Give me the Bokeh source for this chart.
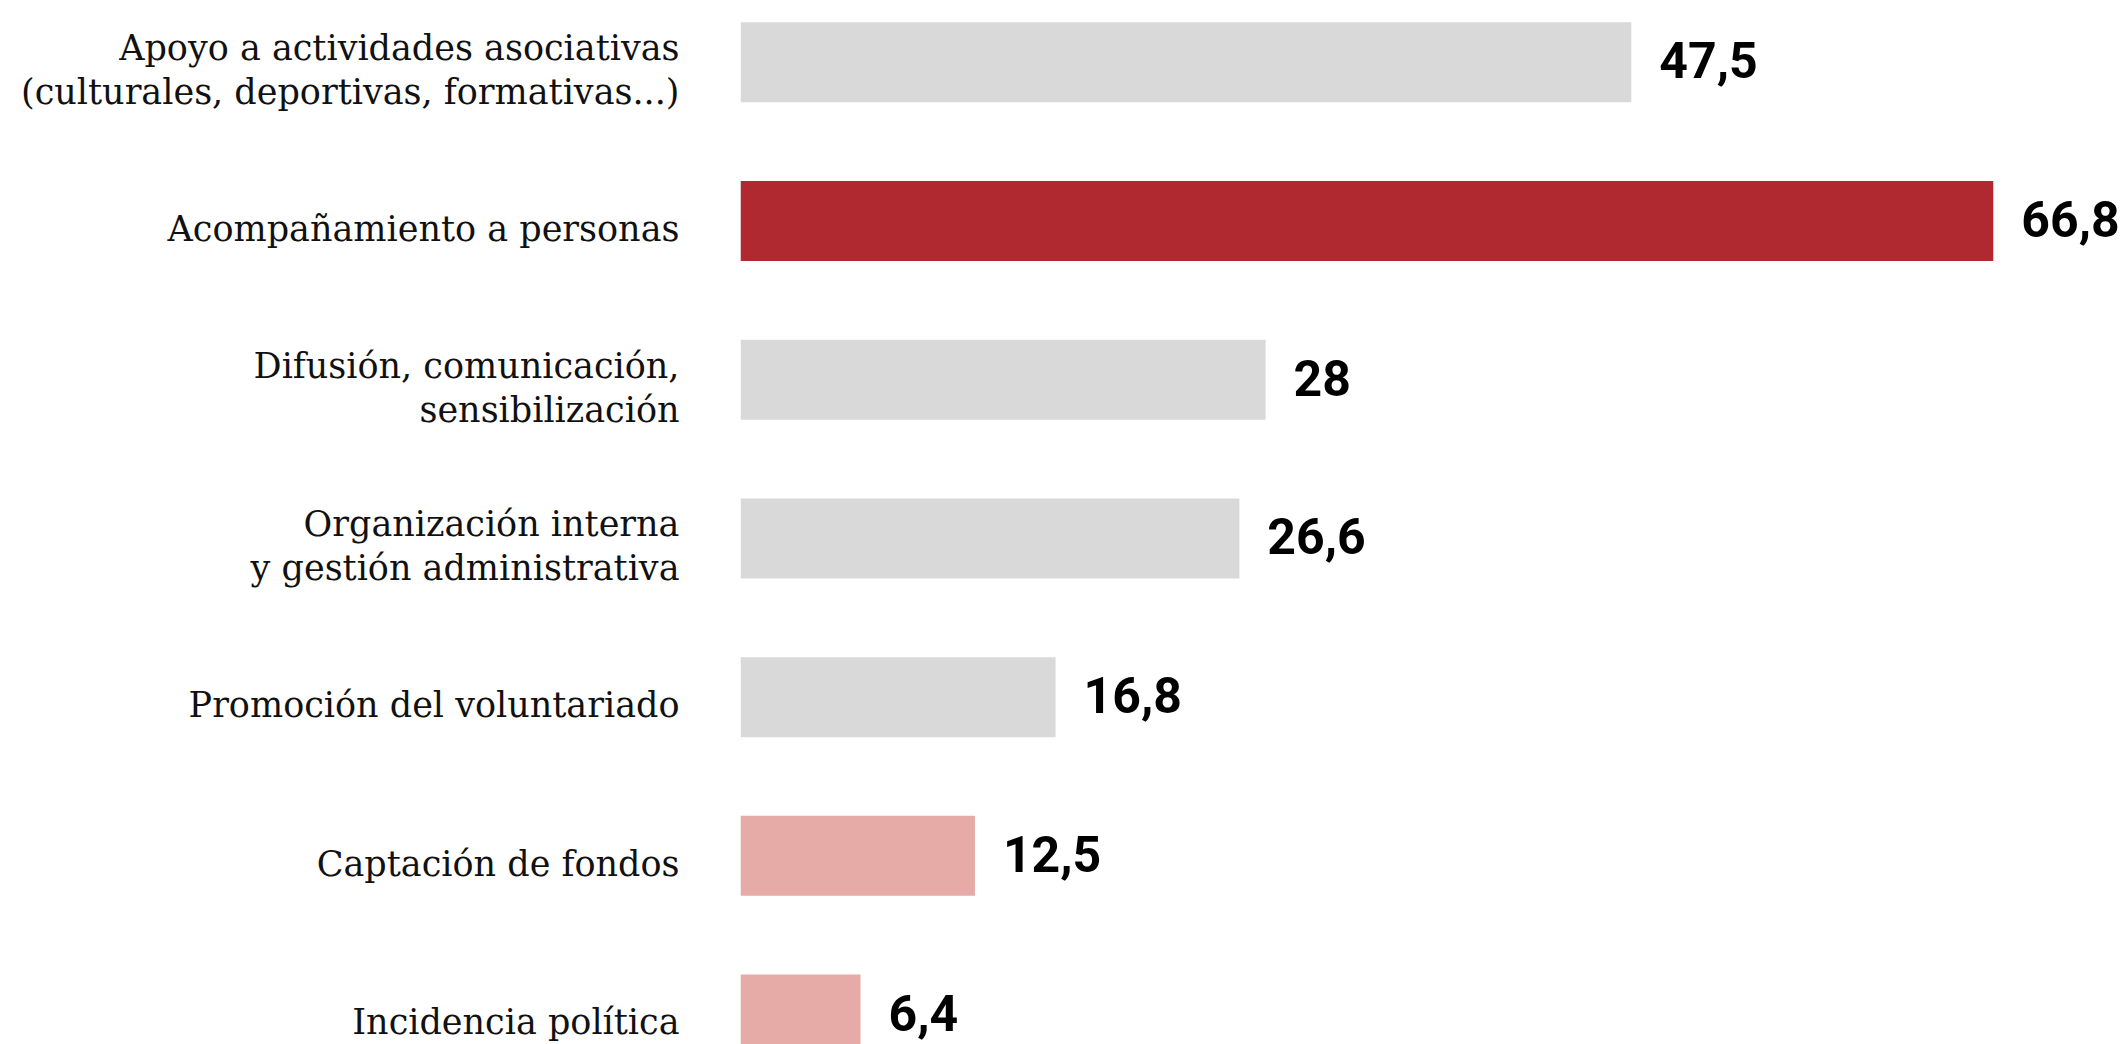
from bokeh.plotting import figure
from bokeh.models import ColumnDataSource, Range1d, FixedTicker
from bokeh.core.properties import value
from bokeh.embed import file_html
from bokeh.resources import INLINE

# ---- data ----
categories = [
    "Apoyo a actividades asociativas\n(culturales, deportivas, formativas...)",
    "Acompañamiento a personas",
    "Difusión, comunicación,\nsensibilización",
    "Organización interna\ny gestión administrativa",
    "Promoción del voluntariado",
    "Captación de fondos",
    "Incidencia política",
]
values = [47.5, 66.8, 28, 26.6, 16.8, 12.5, 6.4]

# ---- styles ----
GRAY = "#D9D9D9"
RED = "#B02830"
PINK = "#E6ABA7"
bar_colors = [GRAY, RED, GRAY, GRAY, GRAY, PINK, PINK]
LABEL_SHIFT = 0.05  # category labels sit slightly below bar centres


def fmt(v):
    s = ("%g" % v)
    return s.replace(".", ",")


positions = list(range(len(categories)))
src = ColumnDataSource(dict(
    y=positions,
    v=values,
    color=bar_colors,
    label=[fmt(v) for v in values],
))

W, H = 2122, 1044
p = figure(
    width=W, height=H,
    output_backend="svg", toolbar_location=None,
    x_range=Range1d(0, 73.69),
    y_range=Range1d(6.1887, -0.3897),
    min_border_left=740, min_border_right=0,
    min_border_top=0, min_border_bottom=0,
    background_fill_color="white", border_fill_color="white",
)
p.outline_line_color = None
p.xgrid.visible = False
p.ygrid.visible = False
p.xaxis.visible = False

p.hbar(y="y", right="v", left=0, height=0.504, color="color",
       line_color=None, source=src)

p.text(x="v", y="y", text="label", source=src,
       x_offset=28, y_offset=-2, text_align="left", text_baseline="middle",
       text_font=value("Roboto"), text_font_style="bold",
       text_font_size="50px", text_color="#000000")

tick_pos = [i + LABEL_SHIFT for i in positions]
ya = p.yaxis[0]
ya.ticker = FixedTicker(ticks=tick_pos)
ya.major_label_overrides = {t: c for t, c in zip(tick_pos, categories)}
ya.axis_line_color = None
ya.major_tick_line_color = None
ya.minor_tick_line_color = None
ya.major_label_standoff = 55
ya.major_label_text_font = "DejaVu Serif"
ya.major_label_text_font_size = "35px"
ya.major_label_text_color = "#111111"
ya.major_label_text_align = "right"
ya.major_label_text_line_height = 1.1

open("out.html", "w").write(file_html(p, INLINE))
